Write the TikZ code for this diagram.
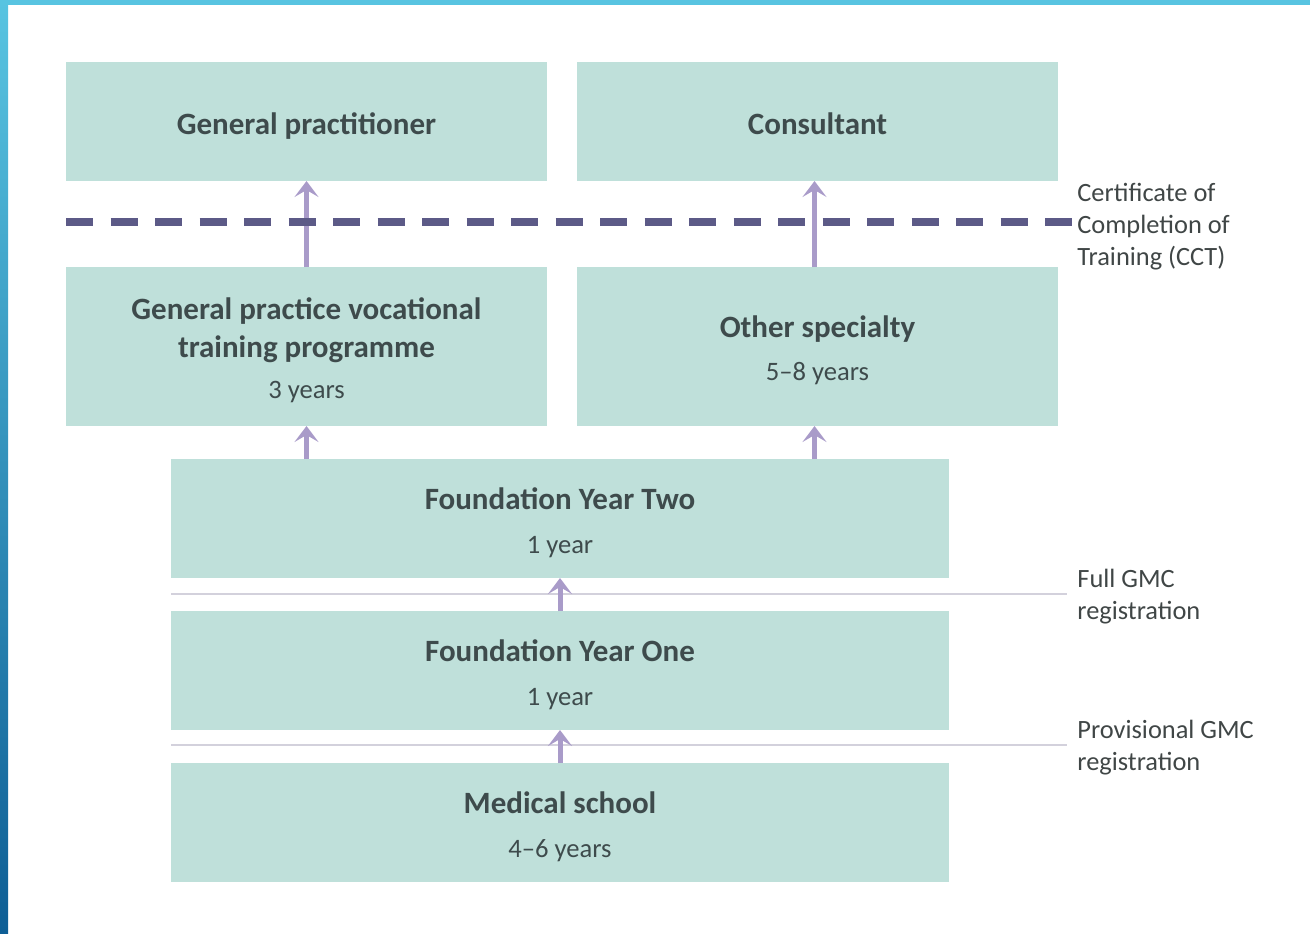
\documentclass[tikz,border=0pt]{standalone}
\usepackage{fontspec}
\setmainfont{Carlito}
\usepackage{tikz}
\usetikzlibrary{positioning}
\usetikzlibrary{arrows.meta}
\definecolor{boxfill}{HTML}{BFE0DA}
\definecolor{boxtext}{HTML}{3E4B4C}
\definecolor{arrowcol}{HTML}{A99BC9}
\definecolor{cctcol}{HTML}{5C5A87}
\definecolor{regcol}{HTML}{D3D1DC}
\definecolor{notetext}{HTML}{404646}
\definecolor{frametop}{HTML}{58C4E1}
\definecolor{framebot}{HTML}{0E5E95}
\newcommand{\yrs}[1]{{\mdseries\fontsize{13.3}{15}\selectfont #1}}
\newcommand{\boxstrut}{\rule{0pt}{16pt}}

\begin{document}
\begin{tikzpicture}[x=0.5pt, y=-0.5pt,
    stage/.style = {fill=boxfill, text=boxtext, outer sep=0pt, align=center,
      text depth=3.5pt, font=\bfseries\fontsize{15.5}{19}\selectfont},
    half/.style = {minimum width=240.5pt},
    full/.style = {minimum width=389pt, minimum height=59.5pt},
    note/.style = {text=notetext, anchor=west, align=left, inner sep=0pt,
      font=\fontsize{13.2}{16}\selectfont},
    flow/.style = {draw=arrowcol, line width=2.5pt,
      -{Stealth[length=8pt, width=12pt, inset=3.5pt]}},
    reg/.style = {draw=regcol, line width=1pt},
    cct/.style = {draw=cctcol, line width=4pt, dash pattern=on 13.5pt off 8.75pt}
    ]
    % frame
    \fill[frametop] (0,0) rectangle (1310,5);
    \shade[top color=frametop, bottom color=framebot] (0,0) rectangle (8,933);
    \useasboundingbox (0,0) rectangle (1310,933);

    \node[stage, half, minimum height=59.5pt] (gp) at (306.5,121.5) {\boxstrut General practitioner};
    \node[stage, half, minimum height=59.5pt] (cons) [right=15pt of gp] {\boxstrut Consultant};
    \node[stage, half, minimum height=79.5pt] (gpvt) [below=43pt of gp]
      {\boxstrut General practice vocational\\training programme\\[1.5pt]\yrs{3 years}};
    \node[stage, half, minimum height=79.5pt] (other) [right=15pt of gpvt]
      {\boxstrut Other specialty\\[2.5pt]\yrs{5--8 years}};

    \node[stage, full] (fy2) at (560,518.5) {\boxstrut Foundation Year Two\\[3pt]\yrs{1 year}};
    \node[stage, full] (fy1) [below=16.5pt of fy2] {\boxstrut Foundation Year One\\[3pt]\yrs{1 year}};
    \node[stage, full] (med) [below=16.5pt of fy1] {\boxstrut Medical school\\[3pt]\yrs{4--6 years}};

    % registration lines
    \coordinate (fullL) at (171,594);
    \coordinate (fullR) at (1067,594);
    \coordinate (provL) at (171,745);
    \coordinate (provR) at (1067,745);
    \draw[reg] (fullL) -- (fullR);
    \draw[reg] (provL) -- (provR);
    \node[note] (full) at ([xshift=5pt, yshift=-1.3pt]fullR) {Full GMC\\registration};
    \node[note] (prov) at ([xshift=5pt, yshift=-1.3pt]provR) {Provisional GMC\\registration};

    % arrows
    \draw[flow] (gpvt.north) -- (gp.south);
    \draw[flow] ([xshift=-1.5pt]other.north) -- ([xshift=-1.5pt]cons.south);
    \draw[flow] (gpvt.south |- fy2.north) -- (gpvt.south);
    \draw[flow] ([xshift=-1.5pt]other.south |- fy2.north) -- ([xshift=-1.5pt]other.south);
    \draw[flow] (fy1) -- (fy2);
    \draw[flow] (med) -- (fy1);

    % CCT line
    \coordinate (cctL) at (66,222);
    \coordinate (cctR) at (1072,222);
    \draw[cct] (cctL) -- (cctR);
    \node[note] (cct) at ([xshift=2.5pt, yshift=-2.3pt]cctR) {Certificate of\\Completion of\\Training (CCT)};
\end{tikzpicture}
\end{document}
